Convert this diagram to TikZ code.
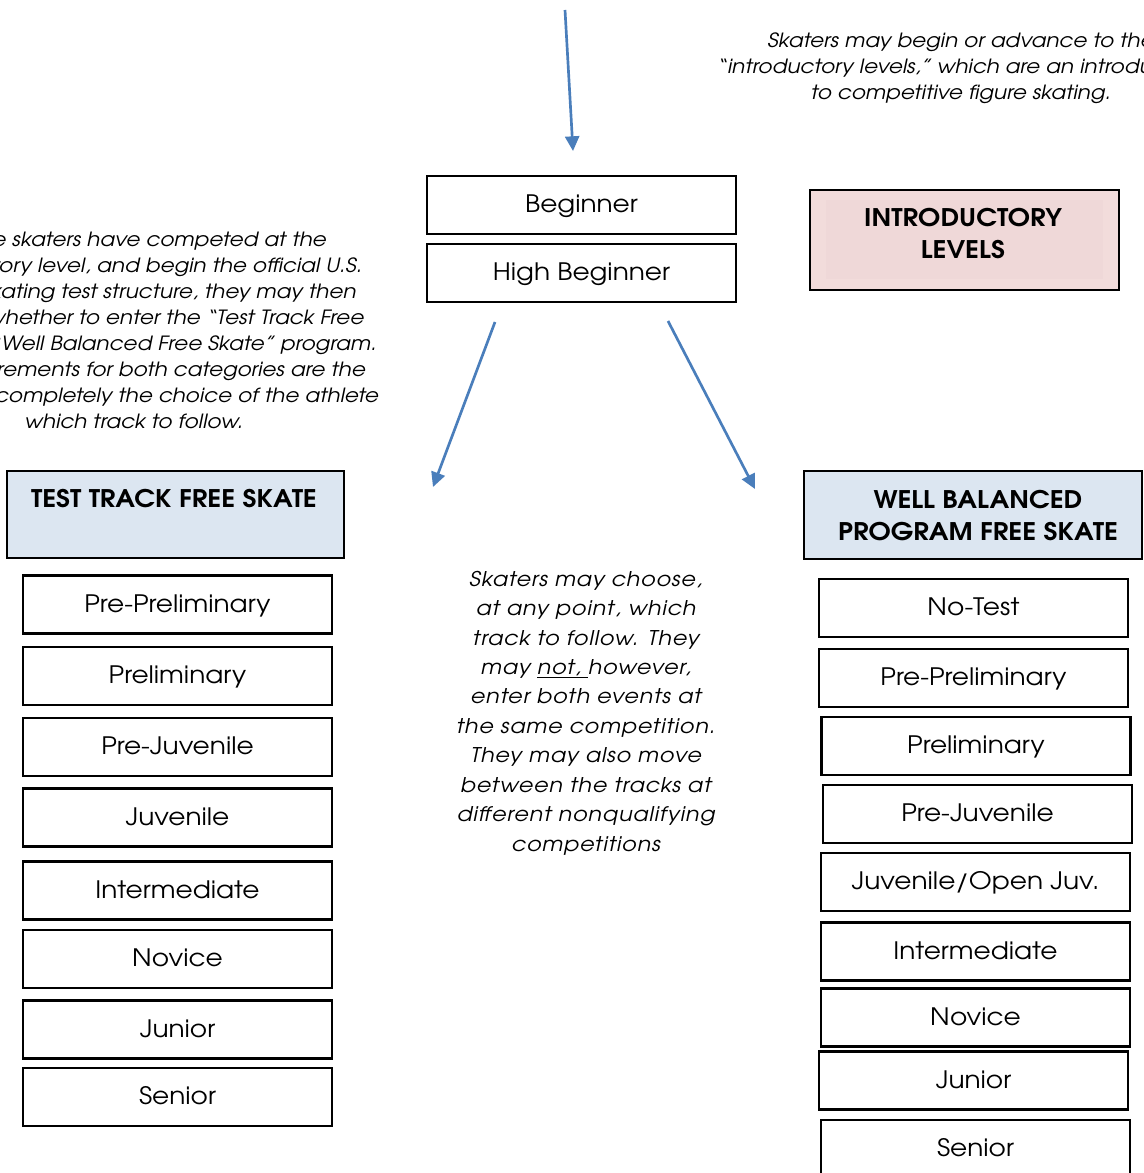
\documentclass[tikz,border=0pt]{standalone}
\usepackage{fontspec}
\setmainfont[FakeStretch=1.1]{TeX Gyre Adventor}
\newfontfamily\midfont[FakeStretch=1.1,LetterSpace=4]{TeX Gyre Adventor}
\usetikzlibrary{arrows.meta}
\definecolor{arrowblue}{HTML}{4A7EBB}
\definecolor{pinkfill}{HTML}{F2DCDB}
\definecolor{pinkinner}{HTML}{EFD8D8}
\definecolor{bluefill}{HTML}{DCE6F1}
\tikzset{
  levelbox/.style={draw=black, line width=2pt, minimum width=231.75pt, minimum height=43.5pt,
    inner sep=0pt, font=\fontsize{18}{20}\selectfont, fill=white,
    text height=15.3pt, text depth=4pt},
  headbox/.style={draw=black, line width=1.8pt, fill=bluefill, inner sep=0pt},
  headtext/.style={font=\bfseries\fontsize{18.2}{24}\selectfont, align=center, inner sep=0pt},
  para/.style={font=\itshape\fontsize{14.7}{19.5}\selectfont, align=center, inner sep=0pt},
  flow/.style={draw=arrowblue, line width=2pt, -{Triangle[length=11pt,width=10.5pt]}},
}
\begin{document}
\begin{tikzpicture}[x=0.75pt,y=-0.75pt]
\useasboundingbox (0,0) rectangle (1143,1173);
\clip (0,0) rectangle (1143,1173);
\fill[white] (0,0) rectangle (1143,1173);

% intro paragraph top right
\node[para] (introtext) at (961,68) {Skaters may begin or advance to the\\
\textquotedblleft introductory levels,\textquotedblright\ which are an introduction\\
to competitive figure skating.};

% introductory levels box
\node[draw=black, line width=1.8pt, fill=pinkfill, minimum width=231.75pt, minimum height=75pt, inner sep=0pt] (intro) at (964.5,240) {};
\fill[pinkinner] (826,200) rectangle (1103,279);
\node[headtext] (introlabel) at (963,234) {INTRODUCTORY\\LEVELS};

% beginner boxes
\node[levelbox] (beg) at (581.5,205) {Beginner};
\node[levelbox] (hbeg) at (581.5,273) {High Beginner};

% left paragraph
\node[para] (lefttext) at (134,330) {As the skaters have competed at the\\
introductory level, and begin the official U.S.\\
Figure Skating test structure, they may then\\
choose whether to enter the \textquotedblleft Test Track Free\\
Skate\textquotedblright\ or \textquotedblleft Well Balanced Free Skate\textquotedblright\ program.\\
The requirements for both categories are the\\
same; it is completely the choice of the athlete\\
which track to follow.};

% arrows
\coordinate (topstart) at (565,10);
\coordinate (topend) at (573,151);
\coordinate (lstart) at (495,322);
\coordinate (lend) at (433,487);
\coordinate (rstart) at (668,321);
\coordinate (rend) at (755,489);
\draw[flow] (topstart) -- (topend);
\draw[flow] (lstart) -- (lend);
\draw[flow] (rstart) -- (rend);

% headers
\node[headbox, minimum width=252.75pt, minimum height=65.25pt] (tthead) at (175.5,514.5) {};
\node[headtext] (ttlabel) at (174,499) {TEST TRACK FREE SKATE};
\node[headbox, minimum width=253.5pt, minimum height=66pt] (wbhead) at (973,515) {};
\node[headtext] (wblabel) at (978,516) {WELL BALANCED\\PROGRAM FREE SKATE};

% left column
\node[levelbox] (l1) at (177.5,604.5) {Pre-Preliminary};
\node[levelbox] (l2) at (177.5,676) {Preliminary};
\node[levelbox] (l3) at (177.5,747) {Pre-Juvenile};
\node[levelbox] (l4) at (177.5,817.5) {Juvenile};
\node[levelbox] (l5) at (177.5,890.5) {Intermediate};
\node[levelbox] (l6) at (177.5,959) {Novice};
\node[levelbox] (l7) at (177.5,1029.5) {Junior};
\node[levelbox] (l8) at (177.5,1097) {Senior};

% right column
\node[levelbox] (r1) at (973.5,608) {No-Test};
\node[levelbox] (r2) at (973.5,678) {Pre-Preliminary};
\node[levelbox] (r3) at (976,746) {Preliminary};
\node[levelbox] (r4) at (977.5,814) {Pre-Juvenile};
\node[levelbox] (r5) at (975.5,882) {Juvenile/Open Juv.};
\node[levelbox] (r6) at (975.5,951.5) {Intermediate};
\node[levelbox] (r7) at (975.5,1017.5) {Novice};
\node[levelbox] (r8) at (973.5,1080.5) {Junior};
\node[levelbox] (r9) at (975.5,1149) {Senior};

% middle paragraph
\node[align=center, inner sep=0pt, font=\midfont\itshape\fontsize{15.2}{22.1}\selectfont] (midtext) at (586,713) {Skaters may choose,\\
at any point, which\\
track to follow. They\\
may \underline{not,\ }however,\\
enter both events at\\
the same competition.\\
They may also move\\
between the tracks at\\
different nonqualifying\\
competitions};
\end{tikzpicture}
\end{document}
